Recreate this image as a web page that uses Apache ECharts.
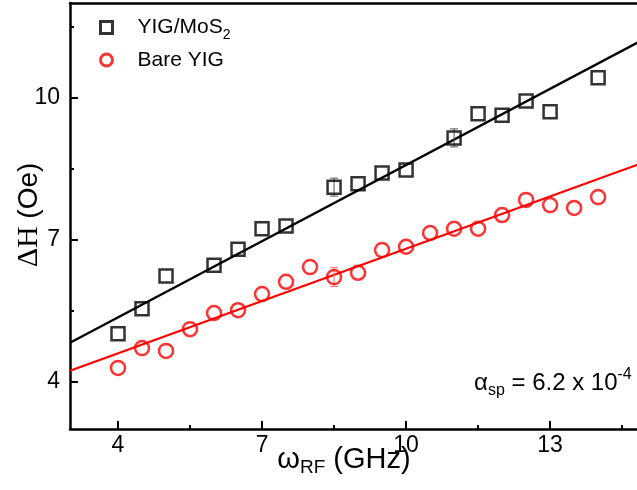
<!DOCTYPE html>
<html>
<head>
<meta charset="utf-8">
<script src="https://cdn.jsdelivr.net/npm/echarts@6/dist/echarts.min.js"></script>
<style>
  html, body { margin: 0; padding: 0; background: #fff; }
  #chart { width: 637px; height: 490px; }
</style>
</head>
<body>
<div id="chart"></div>
<script>
// data
var xMajor = [4, 7, 10, 13];
var xMinor = [5.5, 8.5, 11.5, 14.5];
var yMajor = [4, 7, 10];
var yMinor = [5.5, 8.5, 11.5];

var xBlack = [4, 4.5, 5, 6, 6.5, 7, 7.5, 8.5, 9, 9.5, 10, 11, 11.5, 12, 12.5, 13, 14];
var yBlack = [5.01, 5.54, 6.23, 6.46, 6.80, 7.23, 7.29, 8.11, 8.18, 8.41, 8.47, 9.15, 9.66, 9.63, 9.93, 9.70, 10.42];
var errBlack = [0, 0, 0, 0, 0, 0, 0, 0.19, 0, 0, 0, 0.19, 0, 0, 0, 0, 0];

var xRed = [4, 4.5, 5, 5.5, 6, 6.5, 7, 7.5, 8, 8.5, 9, 9.5, 10, 10.5, 11, 11.5, 12, 12.5, 13, 13.5, 14];
var yRed = [4.29, 4.71, 4.65, 5.11, 5.45, 5.51, 5.85, 6.11, 6.42, 6.21, 6.30, 6.78, 6.85, 7.14, 7.23, 7.23, 7.52, 7.84, 7.73, 7.67, 7.90];
var errRed = [0, 0, 0, 0, 0, 0, 0, 0, 0, 0.2, 0, 0, 0, 0, 0, 0, 0, 0, 0, 0, 0];

// linear fits
var fitX = [3, 15];
var fitBlack = [4.82, 11.26];
var fitRed = [4.23, 8.65];

function zip(a, b, c) {
  return a.map(function (v, i) { return c ? [v, b[i], c[i]] : [v, b[i]]; });
}

// error bars
function errorBar(color) {
  return function (params, api) {
    var e = api.value(2);
    if (!e) return null;
    var x = api.value(0), y = api.value(1);
    var lo = api.coord([x, y - e]);
    var hi = api.coord([x, y + e]);
    var w = 4;
    var st = { stroke: color, lineWidth: 1 };
    return {
      type: 'group',
      children: [
        { type: 'line', shape: { x1: lo[0], y1: lo[1], x2: hi[0], y2: hi[1] }, style: st },
        { type: 'line', shape: { x1: lo[0] - w, y1: lo[1], x2: lo[0] + w, y2: lo[1] }, style: st },
        { type: 'line', shape: { x1: hi[0] - w, y1: hi[1], x2: hi[0] + w, y2: hi[1] }, style: st }
      ]
    };
  };
}

var chart = echarts.init(document.getElementById('chart'));
var font = 'Liberation Sans, Arial, sans-serif';

// the original plot is cut at the right edge of the picture
var axisX = function (pos, ticks, labels, line) {
  return {
    type: 'value', min: 3, max: 14.81, position: pos,
    axisLine: { show: line, onZero: false, lineStyle: { color: '#000', width: 2.5 } },
    axisTick: { show: !!ticks, inside: true, length: labels ? 8 : 4, customValues: ticks || [], lineStyle: { color: '#000', width: 2 } },
    axisLabel: { show: !!labels, customValues: labels || [], color: '#000', fontSize: 23, fontFamily: font, margin: 5 },
    splitLine: { show: false }
  };
};
var axisY = function (ticks, labels, line) {
  return {
    type: 'value', min: 3, max: 12, position: 'left',
    axisLine: { show: line, onZero: false, lineStyle: { color: '#000', width: 2.5 } },
    axisTick: { show: true, inside: true, length: labels ? 8 : 4, customValues: ticks, lineStyle: { color: '#000', width: 2 } },
    axisLabel: { show: !!labels, customValues: labels || [], color: '#000', fontSize: 23, fontFamily: font, margin: 10 },
    splitLine: { show: false }
  };
};

var option = {
  animation: false,
  backgroundColor: '#fff',
  grid: { left: 70, right: 0, top: 3, bottom: 61 },
  xAxis: [
    axisX('bottom', xMajor, xMajor, true),
    axisX('bottom', xMinor, null, false),
    axisX('top', null, null, true)
  ],
  yAxis: [
    axisY(yMajor, yMajor, true),
    axisY(yMinor, null, false)
  ],
  legend: {
    orient: 'vertical',
    left: 99,
    top: 17,
    padding: 0,
    itemWidth: 12,
    itemHeight: 12,
    itemGap: 7,
    data: [
      { name: 'YIG/MoS2', itemStyle: { color: 'rgba(0,0,0,0)', borderColor: '#000', borderWidth: 3 } },
      { name: 'Bare YIG', itemStyle: { color: 'rgba(0,0,0,0)', borderColor: '#ff0000', borderWidth: 3 } }
    ],
    formatter: function (name) {
      return name === 'YIG/MoS2' ? '{t|YIG/MoS}{s|2}' : '{t|Bare YIG}';
    },
    textStyle: {
      color: '#000',
      fontFamily: font,
      fontSize: 21,
      padding: [0, 0, 0, 20],
      rich: {
        t: { fontSize: 21, fontFamily: font, color: '#000', lineHeight: 24 },
        s: { fontSize: 14, fontFamily: font, color: '#000', verticalAlign: 'bottom', lineHeight: 30 }
      }
    }
  },
  graphic: [
    {
      type: 'text', x: 29, y: 215, rotation: Math.PI / 2,
      style: {
        text: '{g|ΔH} (Oe)', fill: '#000', font: '28px ' + font,
        align: 'center', verticalAlign: 'middle',
        rich: { g: { fontFamily: 'Liberation Serif, serif', fontSize: 30, fill: '#000' } }
      }
    },
    {
      type: 'text', x: 344, y: 460,
      style: {
        text: '{w|ω}{r|RF}{t| (GHz)}', fill: '#000',
        align: 'center', verticalAlign: 'middle',
        rich: {
          w: { fontFamily: font, fontSize: 29, fill: '#000', lineHeight: 34, verticalAlign: 'middle' },
          r: { fontFamily: font, fontSize: 19, fill: '#000', lineHeight: 34, verticalAlign: 'bottom' },
          t: { fontFamily: font, fontSize: 29, fill: '#000', lineHeight: 34, verticalAlign: 'middle' }
        }
      }
    },
    {
      type: 'text', x: 474, y: 383,
      style: {
        text: '{a|α}{s|sp}{a| = 6.2 x 10}{p|-4}', fill: '#000',
        align: 'left', verticalAlign: 'middle',
        rich: {
          a: { fontFamily: font, fontSize: 24, fill: '#000', lineHeight: 32, verticalAlign: 'middle' },
          s: { fontFamily: font, fontSize: 16, fill: '#000', lineHeight: 32, verticalAlign: 'bottom' },
          p: { fontFamily: font, fontSize: 16, fill: '#000', lineHeight: 32, verticalAlign: 'top' }
        }
      }
    }
  ],
  series: [
    {
      type: 'line', name: 'fitBlack', data: zip(fitX, fitBlack), showSymbol: false, silent: true,
      lineStyle: { color: '#000', width: 2.3 }, z: 2
    },
    {
      type: 'line', name: 'fitRed', data: zip(fitX, fitRed), showSymbol: false, silent: true,
      lineStyle: { color: '#ff0000', width: 2.3 }, z: 2
    },
    {
      type: 'custom', name: 'errBlack', renderItem: errorBar('#555'), data: zip(xBlack, yBlack, errBlack), z: 3
    },
    {
      type: 'custom', name: 'errRed', renderItem: errorBar('#f07070'), data: zip(xRed, yRed, errRed), z: 3
    },
    {
      type: 'scatter', name: 'YIG/MoS2', data: zip(xBlack, yBlack), symbol: 'rect', symbolSize: 13,
      itemStyle: { color: 'rgba(0,0,0,0)', borderColor: '#000', borderWidth: 2.5 }, z: 4
    },
    {
      type: 'scatter', name: 'Bare YIG', data: zip(xRed, yRed), symbol: 'circle', symbolSize: 14,
      itemStyle: { color: 'rgba(0,0,0,0)', borderColor: '#ff0000', borderWidth: 2.5 }, z: 4
    }
  ]
};
chart.setOption(option);
</script>
</body>
</html>
